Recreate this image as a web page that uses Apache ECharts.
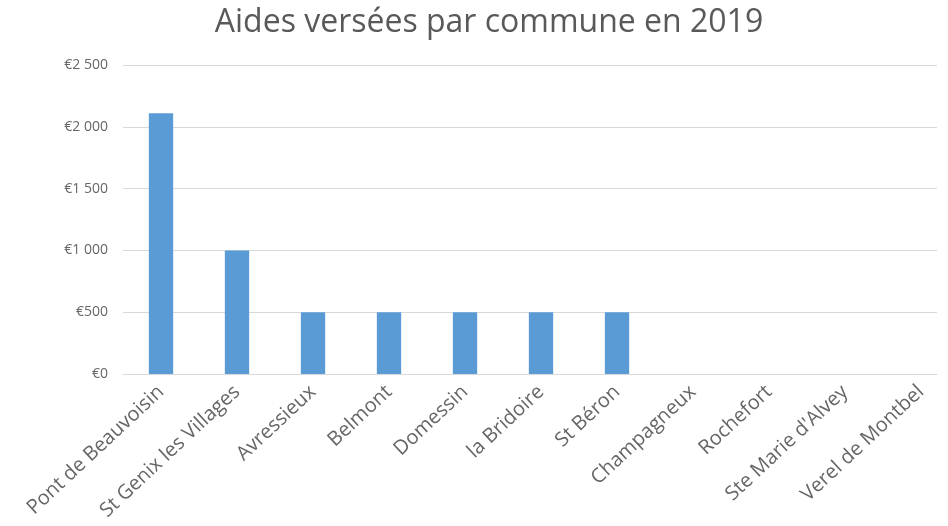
<!DOCTYPE html>
<html><head><meta charset="utf-8">
<script src="https://cdn.jsdelivr.net/npm/echarts@6/dist/echarts.min.js"></script>
<style>html,body{margin:0;padding:0;background:#fff}#c{width:948px;height:526px}</style>
</head><body><div id="c"></div>
<script>
var titleText = "Aides versées par commune en 2019";
var communes = ["Pont de Beauvoisin","St Genix les Villages","Avressieux","Belmont","Domessin","la Bridoire","St Béron","Champagneux","Rochefort","Ste Marie d'Alvey","Verel de Montbel"];
var aides = [2110, 1000, 500, 500, 500, 500, 500, 0, 0, 0, 0];
var yMin = 0, yMax = 2500, yStep = 500;

function fmtEuro(v){
  var s = String(Math.round(v));
  if (s.length > 3) s = s.slice(0, s.length-3) + " " + s.slice(s.length-3);
  return "€" + s;
}
var font = "Open Sans";
var chart = echarts.init(document.getElementById('c'));
chart.setOption({
  backgroundColor: '#ffffff',
  animation: false,
  title: {
    text: titleText, left: 484, top: 2, textAlign: 'center',
    textStyle: {fontFamily: font, fontSize: 32, fontWeight: 'normal', color: '#595959'}
  },
  grid: [
    {left: 123, width: 814, top: 65, bottom: 152, outerBoundsMode: 'none', containLabel: false},
    {left: 123, width: 836, top: 65, bottom: 152, outerBoundsMode: 'none', containLabel: false}
  ],
  xAxis: [
    {gridIndex: 0, type: 'category', data: communes, show: true,
     axisLine: {show: true, lineStyle: {color: '#D9D9D9', width: 1}},
     axisTick: {show: false}, axisLabel: {show: false}, splitLine: {show: false}},
    {gridIndex: 1, type: 'category', data: communes,
     axisLine: {show: false}, axisTick: {show: false},
     axisLabel: {interval: 0, rotate: 43, margin: 15, fontFamily: font, fontSize: 20, color: '#666666'}}
  ],
  yAxis: [
    {gridIndex: 0, type: 'value', min: yMin, max: yMax, interval: yStep,
     axisLine: {show: false}, axisTick: {show: false},
     axisLabel: {margin: 15, fontFamily: font, fontSize: 14, color: '#666666', formatter: fmtEuro},
     splitLine: {lineStyle: {color: '#D9D9D9', width: 1}}},
    {gridIndex: 1, type: 'value', min: yMin, max: yMax, interval: yStep,
     axisLine: {show: false}, axisTick: {show: false}, axisLabel: {show: false}, splitLine: {show: false}}
  ],
  series: [{
    type: 'bar', xAxisIndex: 1, yAxisIndex: 1, data: aides,
    barWidth: '32%', itemStyle: {color: '#5B9BD5'}
  }]
});
</script></body></html>
